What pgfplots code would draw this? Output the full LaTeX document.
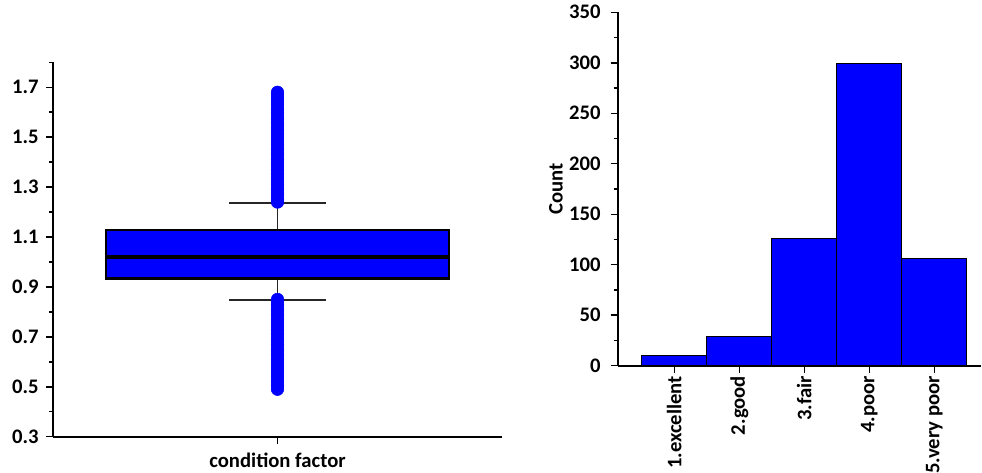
\documentclass[border=0pt]{standalone}
\usepackage{pgfplots}
\pgfplotsset{compat=1.18}
\usepgfplotslibrary{statistics}
\usepackage{fontspec}
\setmainfont{Carlito}
\definecolor{pblue}{RGB}{0,0,255}
\begin{document}
\begin{tikzpicture}
\pgfplotsset{
 every tick label/.append style={font=\fontsize{15.5}{18}\selectfont\bfseries},
 every axis label/.append style={font=\fontsize{15.5}{18}\selectfont\bfseries},
 /pgf/number format/assume math mode=true,
}
\begin{axis}[
 at={(39.75pt,27.225pt)}, anchor=south west,
 scale only axis, width=336.75pt, height=280.8pt,
 xmin=0, xmax=2, ymin=0.3, ymax=1.8,
 axis lines=left, axis line style={-, line width=1.7pt},
 tick align=outside,
 ytick={0.3,0.5,0.7,0.9,1.1,1.3,1.5,1.7},
 minor ytick={0.4,0.6,0.8,1.0,1.2,1.4,1.6,1.8},
 yticklabel style={/pgf/number format/fixed, /pgf/number format/precision=1, /pgf/number format/fixed zerofill, xshift=-2pt},
 xtick={1}, xticklabels={},
 major tick length=5.25pt, minor tick length=3pt,
 every tick/.style={black, line width=1.1pt},
 xlabel={condition factor},
 xlabel style={at={(axis description cs:0.5,0)}, anchor=north, inner sep=0pt, yshift=-12pt},
 clip=false,
]
\addplot[draw=black, fill=pblue,
 boxplot/draw direction=y,
 boxplot/every median/.style={draw=black, line width=2.8pt},
 boxplot prepared={lower whisker=0.848, lower quartile=0.934, median=1.02,
  upper quartile=1.129, upper whisker=1.237, draw position=1,
  box extend=1.528, whisker extend=0.43,
  every box/.style={draw=black, fill=pblue, line width=1.6pt},
  every whisker/.style={draw=black!85, line width=1.1pt}}]
 coordinates {};
\addplot[only marks, mark=*, mark size=4.7pt, mark options={draw=pblue, fill=pblue}]
 coordinates {
 (1,1.24)(1,1.25)(1,1.26)(1,1.27)(1,1.28)(1,1.29)(1,1.30)(1,1.31)(1,1.32)(1,1.33)
 (1,1.34)(1,1.35)(1,1.36)(1,1.37)(1,1.38)(1,1.39)(1,1.40)(1,1.41)(1,1.42)(1,1.43)
 (1,1.44)(1,1.45)(1,1.46)(1,1.47)(1,1.48)(1,1.49)(1,1.50)(1,1.51)(1,1.52)(1,1.53)
 (1,1.54)(1,1.55)(1,1.56)(1,1.57)(1,1.58)(1,1.59)(1,1.60)(1,1.61)(1,1.62)(1,1.63)
 (1,1.64)(1,1.65)(1,1.66)(1,1.67)(1,1.68)
 (1,0.85)(1,0.84)(1,0.83)(1,0.82)(1,0.81)(1,0.80)(1,0.79)(1,0.78)(1,0.77)(1,0.76)
 (1,0.75)(1,0.74)(1,0.73)(1,0.72)(1,0.71)(1,0.70)(1,0.69)(1,0.68)(1,0.67)(1,0.66)
 (1,0.65)(1,0.64)(1,0.63)(1,0.62)(1,0.61)(1,0.60)(1,0.59)(1,0.58)(1,0.57)(1,0.56)
 (1,0.55)(1,0.54)(1,0.53)(1,0.52)(1,0.51)(1,0.50)(1,0.49)
 };
\end{axis}
\begin{axis}[
 at={(463.275pt,80.475pt)}, anchor=south west,
 scale only axis, width=272.25pt, height=265.05pt,
 xmin=0.129, xmax=5.714, ymin=0, ymax=350,
 axis lines=left, axis line style={-, line width=1.7pt},
 tick align=outside,
 ybar, bar width=1,
 xtick={1,2,3,4,5},
 xticklabels={1.excellent,2.good,3.fair,4.poor,5.very poor},
 xticklabel style={rotate=90, anchor=east, xshift=1pt},
 ytick={0,50,100,150,200,250,300,350},
 minor ytick={25,75,125,175,225,275,325},
 yticklabel style={xshift=-4pt},
 major tick length=5.25pt, minor tick length=3pt,
 every tick/.style={black, line width=1.1pt},
 ylabel={Count},
 ylabel style={at={(axis description cs:0,0.5)}, anchor=center, rotate=0, yshift=46.3pt},
 clip=false,
]
\addplot[fill=pblue, draw=black, line width=0.75pt]
 coordinates {(1,10)(2,29)(3,126)(4,299)(5,106)};
\end{axis}
\pgfresetboundingbox
\path (0,0) rectangle (736.5pt,354.75pt);
\end{tikzpicture}
\end{document}
